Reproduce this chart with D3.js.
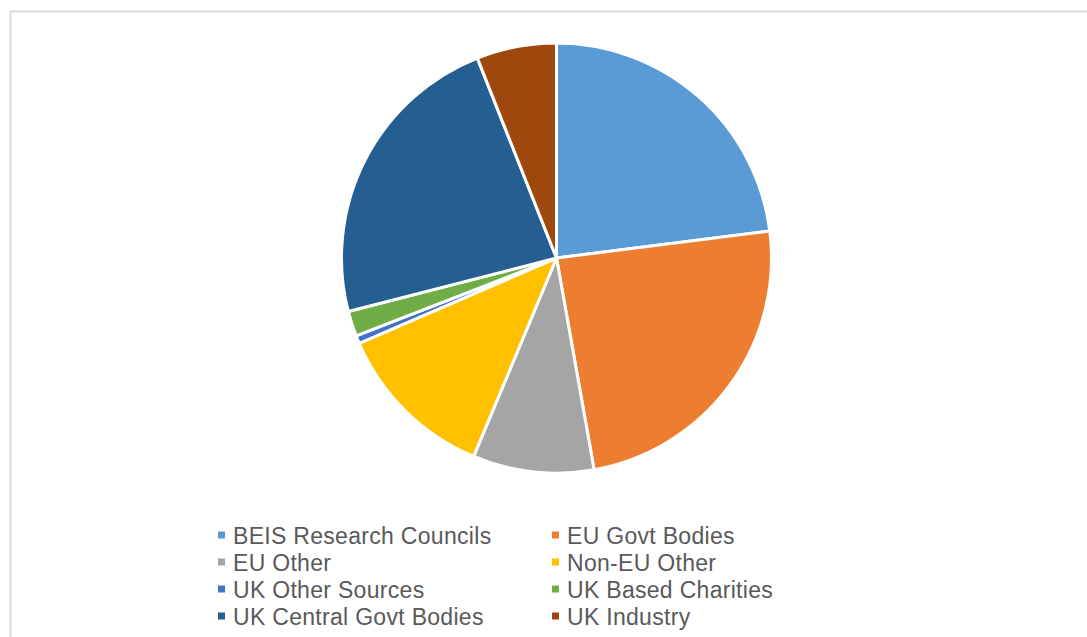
<!DOCTYPE html>
<html>
<head>
<meta charset="utf-8">
<script src="https://cdn.jsdelivr.net/npm/d3@7"></script>
<style>
  body { margin: 0; background: #fff; }
  svg { display: block; }
</style>
</head>
<body>
<div id="chart"></div>
<script>
var categories = ['BEIS Research Councils', 'EU Govt Bodies', 'EU Other', 'Non-EU Other',
    'UK Other Sources', 'UK Based Charities', 'UK Central Govt Bodies', 'UK Industry'],
    shares = [23.0, 24.2, 9.1, 12.2, 0.6, 1.9, 23.0, 6.0],
    colours = ['#5b9bd5', '#ed7d31', '#a5a5a5', '#ffc000', '#4472c4', '#70ad47', '#255e91', '#9e480e'];

var width = 1087,
    height = 637,
    cx = 556.5,
    cy = 258,
    radius = 215;

var svg = d3.select('#chart').append('svg')
    .attr('width', width)
    .attr('height', height);

// chart frame (right and bottom edges fall outside the window)
svg.append('rect')
    .attr('x', 10.5)
    .attr('y', 11.5)
    .attr('width', 1090)
    .attr('height', 640)
    .style('fill', '#fff')
    .style('stroke', '#d9d9d9')
    .style('stroke-width', 2);

var data = categories.map(function (c, i) {
    return { name: c, value: shares[i], colour: colours[i] };
});

var pie = d3.pie()
    .sort(null)
    .value(function (d) { return d.value; });

var arc = d3.arc()
    .innerRadius(0)
    .outerRadius(radius);

svg.append('g')
    .attr('transform', 'translate(' + cx + ',' + cy + ')')
    .selectAll('path')
    .data(pie(data))
    .enter()
    .append('path')
    .attr('d', arc)
    .style('fill', function (d) { return d.data.colour; })
    .style('stroke', '#fff')
    .style('stroke-width', 3)
    .style('stroke-linejoin', 'round');

// legend: two columns, four rows
var colX = [218, 552],
    rowY = d3.scaleBand().domain(d3.range(4)).range([522, 630]);

var item = svg.append('g')
    .selectAll('g')
    .data(data)
    .enter()
    .append('g')
    .attr('transform', function (d, i) {
        return 'translate(' + colX[i % 2] + ',' + (rowY(Math.floor(i / 2)) + rowY.bandwidth() / 2) + ')';
    });

item.append('rect')
    .attr('x', 0)
    .attr('y', -4)
    .attr('width', 7)
    .attr('height', 7)
    .style('fill', function (d) { return d.colour; });

item.append('text')
    .attr('x', 15)
    .attr('y', 0)
    .attr('dy', '0.35em')
    .style('font-family', '"Liberation Sans", Arial, sans-serif')
    .style('font-size', '23px')
    .style('letter-spacing', '0.3px')
    .style('fill', '#595959')
    .text(function (d) { return d.name; });
</script>
</body>
</html>
